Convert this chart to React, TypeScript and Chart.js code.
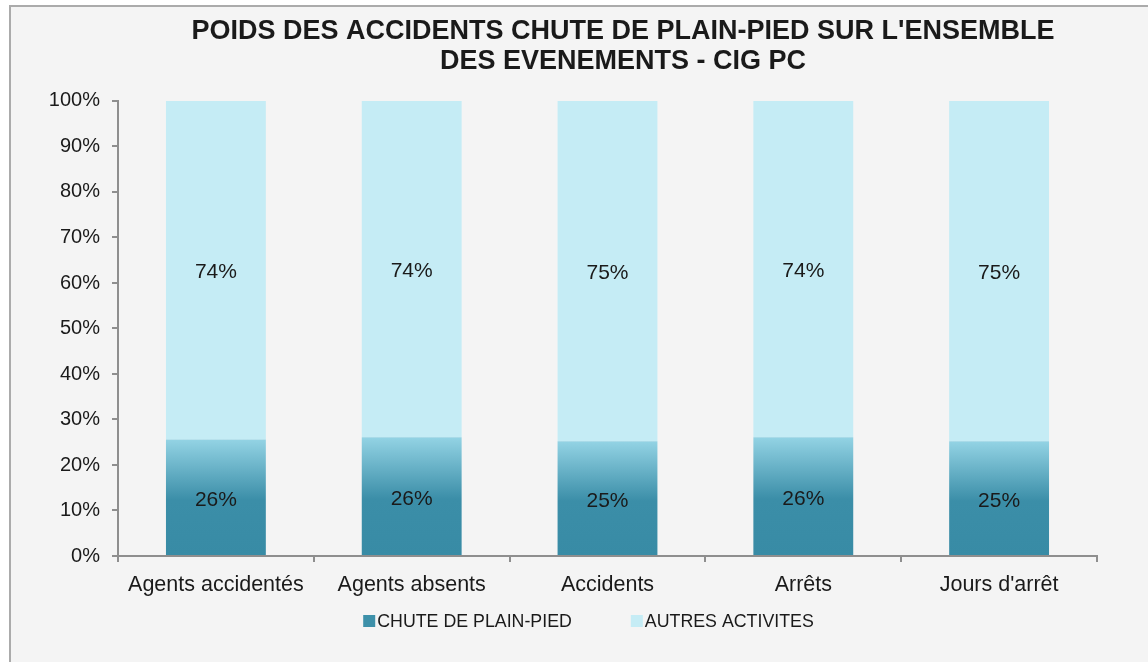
import React, { useEffect, useRef } from "react";
import { Chart, registerables } from "chart.js";

Chart.register(...registerables);

const TITLE_LINES = [
  "POIDS DES ACCIDENTS CHUTE DE PLAIN-PIED SUR L'ENSEMBLE",
  "DES EVENEMENTS - CIG PC",
];
const CATEGORIES = ["Agents accidentés", "Agents absents", "Accidents", "Arrêts", "Jours d'arrêt"];
const SERIES_NAMES = ["CHUTE DE PLAIN-PIED", "AUTRES ACTIVITES"];
const CHUTE_VALUES = [25.6, 26.1, 25.2, 26.1, 25.2];
const AUTRES_VALUES = [74.4, 73.9, 74.8, 73.9, 74.8];
const Y_MAX = 100;
const Y_STEP = 10;

const FONT = "'Liberation Sans', Arial, sans-serif";
const DARK = "#388ba5";
const MID = "#3b8ea8";
const LIGHT = "#93d3e4";
const PALE = "#c5ecf5";
const TEXT = "#1a1a1a";
const AXIS = "#8e8e8e";

const CANVAS_W = 1224;
const CANVAS_H = 655;

const valueLabels = {
  id: "valueLabels",
  afterDatasetsDraw(chart: any) {
    const ctx = chart.ctx;
    ctx.save();
    ctx.font = `21px ${FONT}`;
    ctx.fillStyle = TEXT;
    ctx.textAlign = "center";
    ctx.textBaseline = "middle";
    chart.data.datasets.forEach((ds: any, di: number) => {
      const meta = chart.getDatasetMeta(di);
      meta.data.forEach((el: any, i: number) => {
        const v = ds.data[i];
        const cy = (el.y + el.base) / 2 + (di === 0 ? 3 : 2);
        ctx.fillText(Math.round(v) + "%", el.x, cy);
      });
    });
    ctx.restore();
  },
};

const customLegend = {
  id: "customLegend",
  afterDraw(chart: any) {
    const ctx = chart.ctx;
    const area = chart.chartArea;
    ctx.save();
    ctx.font = `17.8px ${FONT}`;
    ctx.textBaseline = "middle";
    ctx.textAlign = "left";
    const box = 12;
    const gapText = 2;
    const gapItems = 59;
    const items = chart.data.datasets.map((ds: any) => ({
      label: ds.label,
      color: ds.legendColor,
      w: box + gapText + ctx.measureText(ds.label).width,
    }));
    const total = items.reduce((s: number, it: any) => s + it.w, 0) + gapItems * (items.length - 1);
    let x = (area.left + area.right) / 2 - 19 - total / 2;
    const y = 614;
    items.forEach((it: any) => {
      ctx.fillStyle = it.color;
      ctx.fillRect(x, y - box / 2, box, box);
      ctx.fillStyle = TEXT;
      ctx.fillText(it.label, x + box + gapText, y + 1);
      x += it.w + gapItems;
    });
    ctx.restore();
  },
};

export default function App() {
  const canvasRef = useRef<HTMLCanvasElement | null>(null);

  useEffect(() => {
    if (!canvasRef.current) return;
    const chart = new Chart(canvasRef.current, {
      type: "bar",
      data: {
        labels: CATEGORIES,
        datasets: [
          {
            label: SERIES_NAMES[0],
            data: CHUTE_VALUES,
            legendColor: "#3d90a9",
            backgroundColor: (c: any) => {
              const ch = c.chart;
              if (!ch.chartArea || c.type !== "data") return DARK;
              const ys = ch.scales.y;
              const y0 = ys.getPixelForValue(0);
              const y1 = ys.getPixelForValue(c.raw);
              const g = ch.ctx.createLinearGradient(0, y0, 0, y1);
              g.addColorStop(0, DARK);
              g.addColorStop(0.48, MID);
              g.addColorStop(1, LIGHT);
              return g;
            },
            borderWidth: 0,
            categoryPercentage: 1,
            barPercentage: 0.51,
          } as any,
          {
            label: SERIES_NAMES[1],
            data: AUTRES_VALUES,
            legendColor: PALE,
            backgroundColor: PALE,
            borderWidth: 0,
            categoryPercentage: 1,
            barPercentage: 0.51,
          } as any,
        ],
      },
      options: {
        animation: false,
        responsive: false,
        maintainAspectRatio: false,
        layout: { padding: 0 },
        plugins: {
          legend: { display: false },
          tooltip: { enabled: false },
          title: {
            display: true,
            text: TITLE_LINES,
            color: TEXT,
            font: { family: FONT, size: 27, weight: "bold", lineHeight: 1.12 },
            padding: { top: 9, bottom: 24.5 },
          },
        },
        scales: {
          x: {
            stacked: true,
            grid: {
              offset: true,
              drawOnChartArea: false,
              drawTicks: true,
              tickLength: 6,
              color: AXIS,
              lineWidth: 2,
            },
            border: { display: true, color: AXIS, width: 2 },
            ticks: {
              color: TEXT,
              font: { family: FONT, size: 21.5 },
              padding: 10,
              maxRotation: 0,
              autoSkip: false,
            },
            afterFit(s: any) {
              s.height = 106;
            },
          },
          y: {
            stacked: true,
            min: 0,
            max: Y_MAX,
            grid: {
              drawOnChartArea: false,
              drawTicks: true,
              tickLength: 6,
              color: AXIS,
              lineWidth: 2,
            },
            border: { display: true, color: AXIS, width: 2 },
            ticks: {
              stepSize: Y_STEP,
              color: TEXT,
              font: { family: FONT, size: 20 },
              padding: 12,
              callback: (v: any) => v + "%",
            },
            afterFit(s: any) {
              s.width = 107;
            },
          },
          yRight: {
            position: "right",
            display: true,
            grid: { display: false, drawTicks: false },
            border: { display: false },
            ticks: { display: false },
            afterFit(s: any) {
              s.width = 138;
            },
          },
        },
      } as any,
      plugins: [valueLabels, customLegend],
    });
    return () => chart.destroy();
  }, []);

  return (
    <div
      style={{
        position: "absolute",
        left: 0,
        top: 0,
        width: 1148,
        height: 662,
        overflow: "hidden",
        background: "#ffffff",
      }}
    >
      <div
        style={{
          position: "absolute",
          left: 9,
          top: 5,
          width: 1400,
          height: 700,
          border: "2px solid #ababab",
          background: "#f4f4f4",
        }}
      >
        <canvas
          ref={canvasRef}
          width={CANVAS_W}
          height={CANVAS_H}
          style={{ display: "block", width: CANVAS_W, height: CANVAS_H }}
        />
      </div>
    </div>
  );
}
